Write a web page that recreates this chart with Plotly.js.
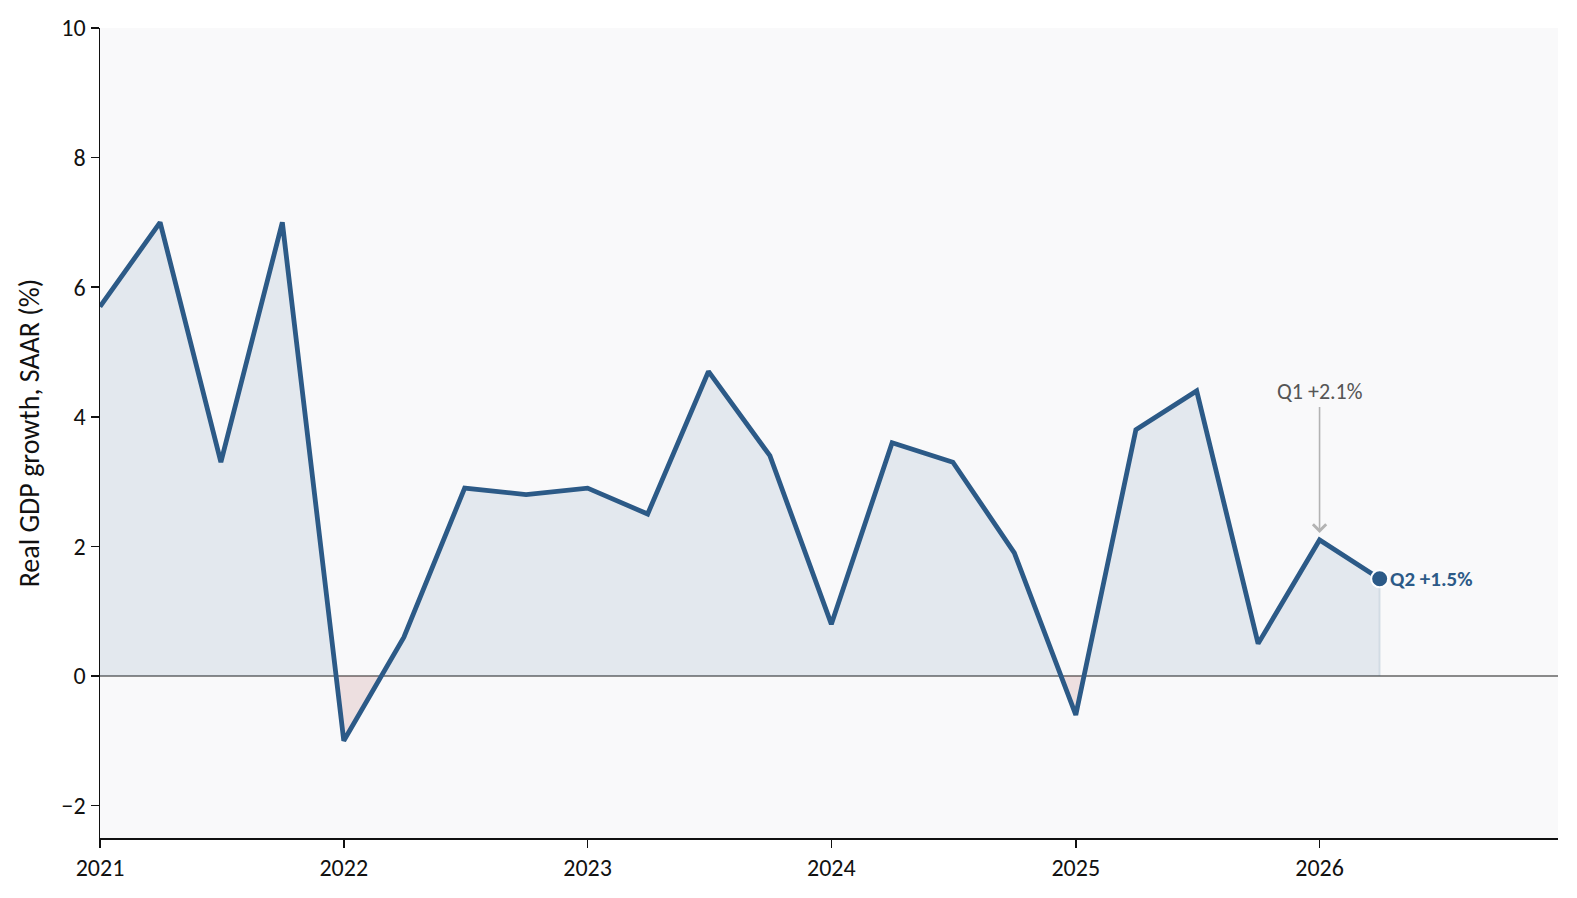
<!DOCTYPE html>
<html>
<head>
<meta charset="utf-8">
<script src="https://cdn.plot.ly/plotly-3.0.1.min.js"></script>
<style>
  html, body { margin: 0; padding: 0; background: #ffffff; }
  #chart { width: 1577px; height: 898px; }
</style>
</head>
<body>
<div id="chart"></div>
<script>
// Quarter start dates
const quarters = [
  '2021-01-01','2021-04-01','2021-07-01','2021-10-01',
  '2022-01-01','2022-04-01','2022-07-01','2022-10-01',
  '2023-01-01','2023-04-01','2023-07-01','2023-10-01',
  '2024-01-01','2024-04-01','2024-07-01','2024-10-01',
  '2025-01-01','2025-04-01','2025-07-01','2025-10-01',
  '2026-01-01','2026-04-01'
];
// Real GDP growth, SAAR (%)
const gdpGrowth = [
  5.7, 7.0, 3.3, 7.0,
  -1.0, 0.6, 2.9, 2.8,
  2.9, 2.5, 4.7, 3.4,
  0.8, 3.6, 3.3, 1.9,
  -0.6, 3.8, 4.4, 0.5,
  2.1, 1.5
];
const yTickVals = [-2, 0, 2, 4, 6, 8, 10];
const yTickText = ['\u22122', '0', '2', '4', '6', '8', '10'];
const xTickVals = ['2021-01-01','2022-01-01','2023-01-01','2024-01-01','2025-01-01','2026-01-01'];
const xTickText = ['2021','2022','2023','2024','2025','2026'];
const q1Label = 'Q1 +2.1%';
const q2Label = 'Q2 +1.5%';

const FONT = "Carlito, Calibri, Lato, 'Open Sans', sans-serif";
const LINE = '#2c5a87';

// Split the area into positive / negative parts at zero crossings of the line
const toMs = d => new Date(d + 'T00:00:00Z').getTime();
const toIso = ms => new Date(ms).toISOString().slice(0, 19).replace('T', ' ');
const ax = [], ay = [];
for (let i = 0; i < quarters.length; i++) {
  if (i > 0) {
    const y0 = gdpGrowth[i - 1], y1 = gdpGrowth[i];
    if ((y0 > 0 && y1 < 0) || (y0 < 0 && y1 > 0)) {
      const t0 = toMs(quarters[i - 1]), t1 = toMs(quarters[i]);
      const f = y0 / (y0 - y1);
      ax.push(toIso(t0 + f * (t1 - t0)));
      ay.push(0);
    }
  }
  ax.push(quarters[i]);
  ay.push(gdpGrowth[i]);
}
const posY = ay.map(v => Math.max(v, 0));
const negY = ay.map(v => Math.min(v, 0));
const last = quarters.length - 1;

const traces = [
  { x: ax, y: posY, type: 'scatter', mode: 'lines', fill: 'tozeroy',
    fillcolor: 'rgba(44,90,135,0.10)', line: { width: 0 }, hoverinfo: 'skip', showlegend: false },
  { x: ax, y: negY, type: 'scatter', mode: 'lines', fill: 'tozeroy',
    fillcolor: 'rgba(170,70,70,0.14)', line: { width: 0 }, hoverinfo: 'skip', showlegend: false },
  { x: [quarters[last], quarters[last]], y: [0, gdpGrowth[last]], type: 'scatter', mode: 'lines',
    line: { color: 'rgba(44,90,135,0.12)', width: 2 }, hoverinfo: 'skip', showlegend: false },
  { x: quarters, y: gdpGrowth, type: 'scatter', mode: 'lines',
    line: { color: LINE, width: 4.8 }, showlegend: false },
  { x: [quarters[last]], y: [gdpGrowth[last]], type: 'scatter', mode: 'markers',
    marker: { color: LINE, size: 17, line: { color: '#ffffff', width: 2 } }, showlegend: false }
];

const layout = {
  width: 1577, height: 898,
  margin: { l: 100, r: 19, t: 28, b: 60 },
  paper_bgcolor: '#ffffff',
  plot_bgcolor: '#f9f9fa',
  font: { family: FONT, size: 24, color: '#111111' },
  showlegend: false,
  xaxis: {
    type: 'date',
    range: ['2021-01-01', '2026-12-24'],
    tickvals: xTickVals, ticktext: xTickText,
    showgrid: false, zeroline: false,
    showline: true, linecolor: '#111111', linewidth: 1.5,
    ticks: 'outside', ticklen: 8, tickwidth: 1.5, tickcolor: '#111111',
    tickfont: { family: FONT, size: 24, color: '#111111' }
  },
  yaxis: {
    range: [-2.5, 10],
    tickvals: yTickVals, ticktext: yTickText,
    showgrid: false,
    zeroline: true, zerolinecolor: '#8a8a8a', zerolinewidth: 2,
    showline: true, linecolor: '#111111', linewidth: 1.5,
    ticks: 'outside', ticklen: 8, tickwidth: 1.5, tickcolor: '#111111',
    tickfont: { family: FONT, size: 24, color: '#111111' },
    title: { text: 'Real GDP growth, SAAR (%)', font: { family: FONT, size: 28, color: '#111111' }, standoff: 13 }
  },
  annotations: [
    { x: quarters[last - 1], y: gdpGrowth[last - 1], xref: 'x', yref: 'y',
      text: q1Label, showarrow: true, arrowhead: 4, arrowsize: 1.6, arrowwidth: 1.6,
      arrowcolor: '#b3b3b3', ax: 0, ay: -148, standoff: 7,
      font: { family: FONT, size: 22, color: '#555555' } },
    { x: quarters[last], y: gdpGrowth[last], xref: 'x', yref: 'y',
      text: '<b>' + q2Label + '</b>', showarrow: false, xanchor: 'left', xshift: 8,
      font: { family: FONT, size: 21, color: LINE } }
  ]
};

Plotly.newPlot('chart', traces, layout, { displayModeBar: false, staticPlot: true });
</script>
</body>
</html>
